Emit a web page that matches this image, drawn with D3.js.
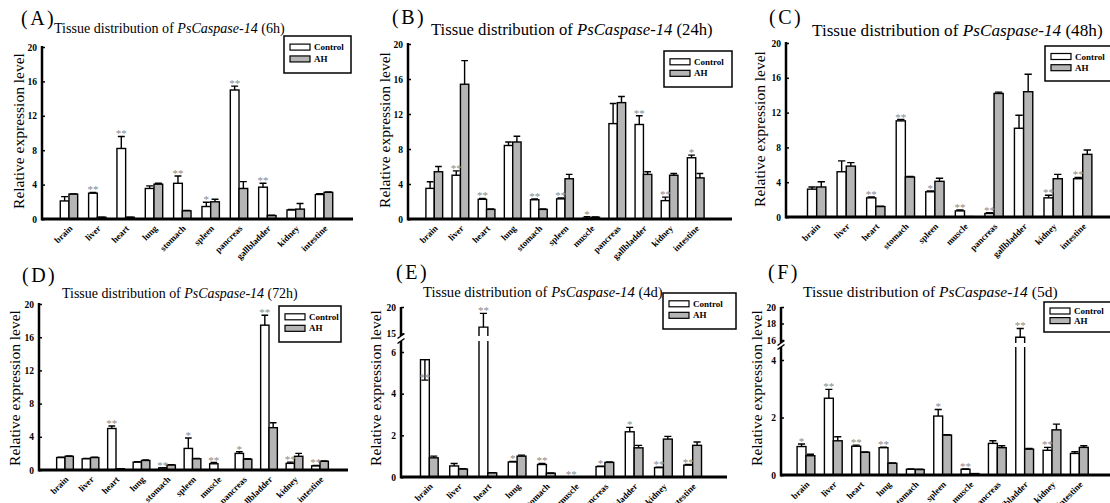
<!DOCTYPE html>
<html lang="en">
<head>
<meta charset="UTF-8">
<script src="https://d3js.org/d3.v7.min.js"></script>
<title>Tissue distribution of PsCaspase-14</title>
<style>
  body { margin: 0; background: #fff; }
  svg text { font-family: "Liberation Serif", "Times New Roman", serif; }
</style>
</head>
<body>
<svg id="chart" width="1110" height="503"></svg>
<script>
// ---- data ----
const catsA = ["brain", "liver", "heart", "lung", "stomach", "spleen", "pancreas", "gallbladder", "kidney", "intestine"];
const ctrlA = [2.1, 3.0, 8.2, 3.55, 4.15, 1.45, 15.0, 3.7, 1.05, 2.85];
const ctrlErrA = [0.5, 0.1, 1.4, 0.3, 0.85, 0.5, 0.45, 0.45, 0.05, 0.1];
const ahA = [2.9, 0.2, 0.2, 4.05, 0.95, 2.0, 3.55, 0.4, 1.15, 3.1];
const ahErrA = [0.02, 0.02, 0.02, 0.1, 0.05, 0.3, 0.8, 0.05, 0.65, 0.05];
const sigA = ["", "**", "**", "", "**", "*", "**", "**", "", ""];

const catsB = ["brain", "liver", "heart", "lung", "stomach", "spleen", "muscle", "pancreas", "gallbladder", "kidney", "intestine"];
const ctrlB = [3.5, 5.0, 2.25, 8.4, 2.2, 2.3, 0.1, 10.9, 10.8, 2.1, 7.0];
const ctrlErrB = [0.75, 0.5, 0.1, 0.4, 0.1, 0.1, 0.15, 2.3, 1.0, 0.4, 0.3];
const ahB = [5.4, 15.4, 1.1, 8.8, 1.1, 4.6, 0.2, 13.3, 5.1, 5.0, 4.7];
const ahErrB = [0.6, 2.7, 0.05, 0.65, 0.05, 0.5, 0.03, 0.7, 0.3, 0.2, 0.5];
const sigB = ["", "**", "**", "", "**", "**", "*", "", "**", "**", "*"];

const catsC = ["brain", "liver", "heart", "stomach", "spleen", "muscle", "pancreas", "gallbladder", "kidney", "intestine"];
const ctrlC = [3.2, 5.2, 2.2, 11.05, 2.9, 0.7, 0.4, 10.2, 2.2, 4.4];
const ctrlErrC = [0.25, 1.25, 0.1, 0.15, 0.1, 0.1, 0.1, 1.5, 0.3, 0.15];
const ahC = [3.45, 5.85, 1.2, 4.6, 4.1, 0.05, 14.2, 14.4, 4.4, 7.2];
const ahErrC = [0.6, 0.4, 0.05, 0.05, 0.35, 0, 0.15, 2.0, 0.5, 0.5];
const sigC = ["", "", "**", "**", "*", "**", "**", "", "**", "**"];

const catsD = ["brain", "liver", "heart", "lung", "stomach", "spleen", "muscle", "pancreas", "gallbladder", "kidney", "intestine"];
const ctrlD = [1.5, 1.35, 5.0, 0.95, 0.25, 2.6, 0.75, 2.0, 17.45, 0.8, 0.5];
const ctrlErrD = [0.05, 0.05, 0.3, 0.05, 0.02, 1.25, 0.15, 0.2, 1.2, 0.15, 0.05];
const ahD = [1.65, 1.5, 0.15, 1.15, 0.6, 1.35, 0.02, 1.3, 5.1, 1.65, 1.05];
const ahErrD = [0.05, 0.05, 0.02, 0.05, 0.05, 0.05, 0, 0.05, 0.6, 0.35, 0.05];
const sigD = ["", "", "**", "", "**", "*", "**", "*", "**", "**", "**"];

const catsE = ["brain", "liver", "heart", "lung", "stomach", "muscle", "pancreas", "gallbladder", "kidney", "intestine"];
const ctrlE = [5.63, 0.53, 16.2, 0.72, 0.6, 0.01, 0.5, 2.17, 0.45, 0.57];
const ctrlErrE = [0.57, 0.12, 2.6, 0.03, 0.05, 0, 0.02, 0.21, 0.02, 0.03];
const ahE = [0.92, 0.38, 0.2, 1.0, 0.18, 0.01, 0.7, 1.4, 1.82, 1.52];
const ahErrE = [0.08, 0.02, 0.01, 0.05, 0.02, 0, 0.02, 0.12, 0.13, 0.16];
const sigE = ["**", "", "**", "*", "**", "**", "*", "*", "**", "**"];

const catsF = ["brain", "liver", "heart", "lung", "stomach", "spleen", "muscle", "pancreas", "gallbladder", "kidney", "intestine"];
const ctrlF = [0.99, 2.67, 1.0, 0.95, 0.2, 2.05, 0.2, 1.1, 16.33, 0.86, 0.75];
const ctrlErrF = [0.09, 0.31, 0.04, 0.02, 0.01, 0.23, 0.01, 0.09, 1.07, 0.1, 0.06];
const ahF = [0.67, 1.19, 0.79, 0.41, 0.19, 1.39, 0.05, 0.95, 0.9, 1.57, 0.96];
const ahErrF = [0.05, 0.14, 0.01, 0.01, 0.01, 0.01, 0, 0.07, 0.02, 0.2, 0.06];
const sigF = ["*", "**", "**", "**", "", "*", "**", "", "**", "**", ""];

const ticksFull = [0, 4, 8, 12, 16, 20];
const seriesNames = ["Control", "AH"];
const seriesFill = ["#ffffff", "#b5b5b5"];

// ---- layout for each panel ----
const panels = [
  { tag: "(A)", time: "6h", cats: catsA, ctrl: ctrlA, ctrlErr: ctrlErrA, ah: ahA, ahErr: ahErrA, sig: sigA,
    ax: 42, low: { dom: [0, 20], rng: [219, 47], top: 46, ticks: ticksFull }, xr: [54.8, 338.2], pad: 0.386, xEnd: 353,
    legend: [284, 36, 67, 37], tagPos: [21, 25], title: [54, 33, 231], ylab: [18, 131] },
  { tag: "(B)", time: "24h", cats: catsB, ctrl: ctrlB, ctrlErr: ctrlErrB, ah: ahB, ahErr: ahErrB, sig: sigB,
    ax: 408, low: { dom: [0, 20], rng: [219, 44], top: 43, ticks: ticksFull }, xr: [421.2, 708.8], pad: 0.36, xEnd: 732,
    legend: [664, 51, 68, 36], tagPos: [392, 24], title: [431, 35, 282], ylab: [384, 130] },
  { tag: "(C)", time: "48h", cats: catsC, ctrl: ctrlC, ctrlErr: ctrlErrC, ah: ahC, ahErr: ahErrC, sig: sigC,
    ax: 786, low: { dom: [0, 20], rng: [217, 43], top: 42, ticks: ticksFull }, xr: [801.9, 1097.5], pad: 0.38, xEnd: 1110,
    legend: [1045, 46, 70, 35], tagPos: [769, 24], title: [812, 36, 291], ylab: [759, 129] },
  { tag: "(D)", time: "72h", cats: catsD, ctrl: ctrlD, ctrlErr: ctrlErrD, ah: ahD, ahErr: ahErrD, sig: sigD,
    ax: 39, low: { dom: [0, 20], rng: [470, 304], top: 303, ticks: ticksFull }, xr: [52.25, 332.75], pad: 0.345, xEnd: 348,
    legend: [279, 306, 62, 36], tagPos: [22, 282], title: [62, 298, 236], ylab: [14, 388] },
  { tag: "(E)", time: "4d", cats: catsE, ctrl: ctrlE, ctrlErr: ctrlErrE, ah: ahE, ahErr: ahErrE, sig: sigE,
    ax: 401, low: { dom: [0, 6], rng: [477, 352], top: 341, ticks: [0, 2, 4, 6] },
    up: { dom: [15, 20], rng: [333.5, 307], bottom: 336, ticks: [15, 20] },
    xr: [414.7, 707.3], pad: 0.395, xEnd: 727,
    legend: [663, 293, 73, 36], tagPos: [396, 279], title: [423, 297, 240], ylab: [375, 388] },
  { tag: "(F)", time: "5d", cats: catsF, ctrl: ctrlF, ctrlErr: ctrlErrF, ah: ahF, ahErr: ahErrF, sig: sigF,
    ax: 781, low: { dom: [0, 4], rng: [475, 360], top: 347, ticks: [0, 2, 4] },
    up: { dom: [16, 20], rng: [340, 307], bottom: 343, ticks: [16, 18, 20] },
    xr: [792.3, 1093], pad: 0.35, xEnd: 1110,
    legend: [1044, 302, 70, 30], tagPos: [768, 279], title: [803, 297, 255], ylab: [756, 388] }
];

const svg = d3.select("#chart");
svg.append("rect").attr("width", 1110).attr("height", 503).attr("fill", "#fff");

function drawPanel(p) {
  const g = svg.append("g");
  const yLow = d3.scaleLinear().domain(p.low.dom).range(p.low.rng);
  const yUp = p.up ? d3.scaleLinear().domain(p.up.dom).range(p.up.rng) : null;
  const y = v => (yUp && v > p.low.dom[1]) ? yUp(v) : yLow(v);
  const y0 = yLow(0);

  const x0 = d3.scaleBand().domain(p.cats).range(p.xr).paddingInner(p.pad).paddingOuter(p.pad / 2);
  const x1 = d3.scaleBand().domain([0, 1]).range([0, x0.bandwidth()]);
  const bw = x1.bandwidth();

  // bars + error bars
  p.cats.forEach((c, i) => {
    const vals = [p.ctrl[i], p.ah[i]];
    const errs = [p.ctrlErr[i], p.ahErr[i]];
    vals.forEach((v, s) => {
      const bx = x0(c) + x1(s);
      if (yUp && v > p.low.dom[1]) {
        // broken bar: open top below the break, open bottom above it
        g.append("rect").attr("x", bx).attr("y", p.low.top).attr("width", bw)
          .attr("height", y0 - p.low.top).attr("fill", seriesFill[s]);
        g.append("path").attr("d", `M${bx},${y0}V${p.low.top}M${bx + bw},${p.low.top}V${y0}`)
          .attr("fill", "none").attr("stroke", "#000").attr("stroke-width", 1.4);
        g.append("rect").attr("x", bx).attr("y", yUp(v)).attr("width", bw)
          .attr("height", p.up.bottom - yUp(v)).attr("fill", seriesFill[s]);
        g.append("path").attr("d", `M${bx},${p.up.bottom}V${yUp(v)}H${bx + bw}V${p.up.bottom}`)
          .attr("fill", "none").attr("stroke", "#000").attr("stroke-width", 1.4);
      } else {
        g.append("rect").attr("x", bx).attr("y", y(v)).attr("width", bw)
          .attr("height", y0 - y(v)).attr("fill", seriesFill[s])
          .attr("stroke", "#000").attr("stroke-width", 1.4);
      }
      if (errs[s] > 0) {
        const cx = bx + bw / 2, yt = y(v + errs[s]), cw = bw * 0.8;
        g.append("path").attr("d", `M${cx},${y(v)}V${yt}M${cx - cw / 2},${yt}H${cx + cw / 2}`)
          .attr("fill", "none").attr("stroke", "#000").attr("stroke-width", 1.4);
      }
    });
    if (p.sig[i]) {
      const cx = x0(c) + x1(0) + bw / 2;
      g.append("text").attr("x", cx).attr("y", y(p.ctrl[i] + p.ctrlErr[i]) + 1)
        .attr("text-anchor", "middle").attr("fill", "#8a8a8a").attr("font-size", 11)
        .text(p.sig[i]);
    }
  });

  // x axis
  g.append("line").attr("x1", p.ax).attr("x2", p.xEnd).attr("y1", y0).attr("y2", y0)
    .attr("stroke", "#000").attr("stroke-width", 3);
  p.cats.forEach(c => {
    const lx = x0(c) + x0.bandwidth() / 2 + 4, ly = y0 + 10;
    g.append("text").attr("transform", `translate(${lx},${ly}) rotate(-45)`)
      .attr("text-anchor", "end").attr("font-size", 9).attr("font-weight", "bold").text(c);
  });

  // y axis (possibly broken)
  const styleAxis = sel => {
    sel.select(".domain").remove();
    sel.selectAll(".tick line").attr("stroke", "#000").attr("stroke-width", 1.5);
    sel.selectAll(".tick text").attr("font-size", 9.5).attr("font-weight", "bold");
  };
  const fmt = d3.format("d");
  g.append("g").attr("transform", `translate(${p.ax},0)`)
    .call(d3.axisLeft(yLow).tickValues(p.low.ticks).tickFormat(fmt).tickSizeInner(-3).tickSizeOuter(0).tickPadding(5))
    .call(styleAxis);
  g.append("line").attr("x1", p.ax).attr("x2", p.ax).attr("y1", y0 + 1.5).attr("y2", p.low.top)
    .attr("stroke", "#000").attr("stroke-width", 2.5);
  if (yUp) {
    g.append("g").attr("transform", `translate(${p.ax},0)`)
      .call(d3.axisLeft(yUp).tickValues(p.up.ticks).tickFormat(fmt).tickSizeInner(-3).tickSizeOuter(0).tickPadding(5))
      .call(styleAxis);
    g.append("line").attr("x1", p.ax).attr("x2", p.ax).attr("y1", p.up.bottom).attr("y2", yUp(20))
      .attr("stroke", "#000").attr("stroke-width", 2.5);
    [p.up.bottom, p.low.top].forEach(yb => {
      g.append("line").attr("x1", p.ax - 3.5).attr("x2", p.ax + 3.5)
        .attr("y1", yb + 2.5).attr("y2", yb - 2.5).attr("stroke", "#000").attr("stroke-width", 1.5);
    });
  }

  // legend
  const [lx, ly, lw, lh] = p.legend;
  g.append("rect").attr("x", lx).attr("y", ly).attr("width", lw).attr("height", lh)
    .attr("fill", "#fff").attr("stroke", "#000").attr("stroke-width", 1.5);
  seriesNames.forEach((name, s) => {
    const cy = ly + lh * (s === 0 ? 0.3 : 0.62);
    g.append("rect").attr("x", lx + 6).attr("y", cy - 3).attr("width", 20).attr("height", 6)
      .attr("fill", seriesFill[s]).attr("stroke", "#000").attr("stroke-width", 1.2);
    g.append("text").attr("x", lx + 30).attr("y", cy + 3).attr("font-size", 9)
      .attr("font-weight", "bold").text(name);
  });

  // titles
  g.append("text").attr("x", p.tagPos[0]).attr("y", p.tagPos[1]).attr("font-size", 20)
    .attr("letter-spacing", 2.5).text(p.tag);
  const t = g.append("text").attr("x", p.title[0]).attr("y", p.title[1]).attr("font-size", 13);
  t.append("tspan").text("Tissue distribution of ");
  t.append("tspan").attr("font-style", "italic").text("PsCaspase-14");
  t.append("tspan").text(` (${p.time})`);
  const w = t.node().getComputedTextLength();
  t.attr("font-size", 13 * p.title[2] / w);

  g.append("text").attr("transform", `translate(${p.ylab[0]},${p.ylab[1]}) rotate(-90)`)
    .attr("text-anchor", "middle").attr("dominant-baseline", "central")
    .attr("font-size", 15.5).text("Relative expression level");
}

panels.forEach(drawPanel);
</script>
</body>
</html>
